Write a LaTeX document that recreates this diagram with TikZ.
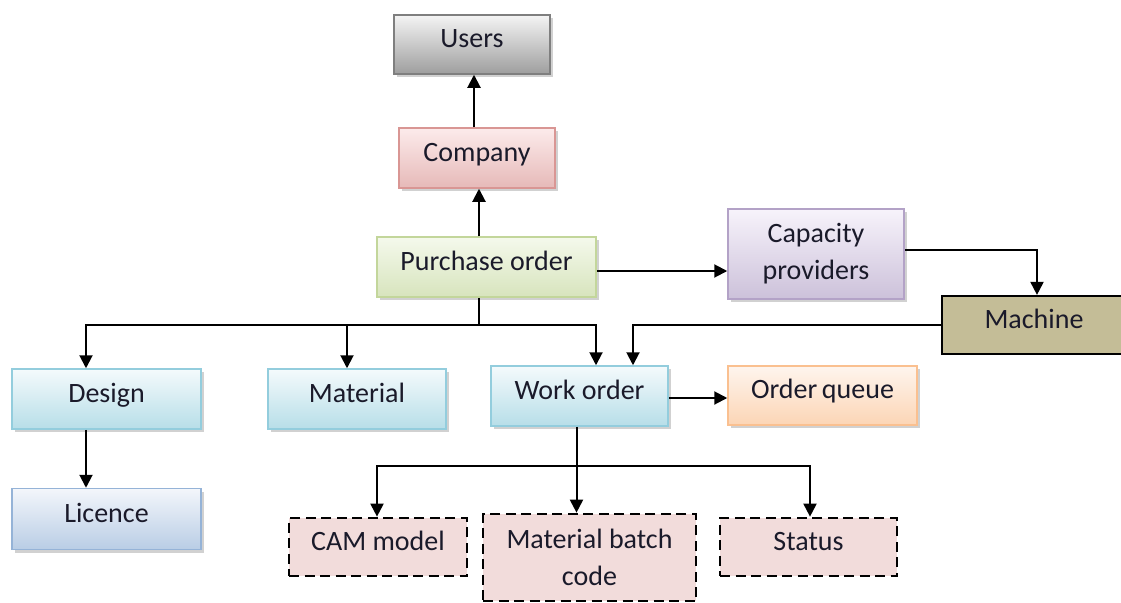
\documentclass[tikz,border=0pt]{standalone}
\usepackage{fontspec}
\setmainfont{Carlito}
\usetikzlibrary{arrows.meta,shadows}
\definecolor{usersT}{HTML}{F4F4F4}\definecolor{usersB}{HTML}{9E9E9E}\definecolor{usersD}{HTML}{7F7F7F}
\definecolor{compT}{HTML}{FCEBEB}\definecolor{compB}{HTML}{E6B9B8}\definecolor{compD}{HTML}{D99694}
\definecolor{poT}{HTML}{F5F9EC}\definecolor{poB}{HTML}{D7E4BD}\definecolor{poD}{HTML}{C3D69B}
\definecolor{capT}{HTML}{F7F3FB}\definecolor{capB}{HTML}{CCC1DA}\definecolor{capD}{HTML}{B3A2C7}
\definecolor{machF}{HTML}{C4BD97}
\definecolor{blT}{HTML}{F4FAFC}\definecolor{blB}{HTML}{B7DEE8}\definecolor{blD}{HTML}{93CDDD}
\definecolor{oqT}{HTML}{FEF5EE}\definecolor{oqB}{HTML}{FCD5B5}\definecolor{oqD}{HTML}{FAC090}
\definecolor{liT}{HTML}{F3F6FB}\definecolor{liB}{HTML}{B9CDE5}\definecolor{liD}{HTML}{95B3D7}
\definecolor{dashF}{HTML}{F2DCDB}
\definecolor{txt}{HTML}{1A1A2A}
\begin{document}
\begin{tikzpicture}[x=1pt,y=-1pt,
  base/.style={line width=1.5pt, inner sep=0pt, text=txt,
    font=\fontsize{28}{37}\selectfont},
  one/.style={text height=0.7em, text depth=0.02em},
  two/.style={align=center},
  shad/.style={drop shadow={shadow xshift=2.5pt, shadow yshift=-3pt, opacity=0.3, fill=black!60}},
  gbox/.style n args={3}{base, shad, draw=#3, top color=#1, bottom color=#2},
  dbox/.style={base, draw=black, fill=dashF, line width=2.7pt, dash pattern=on 10pt off 5.5pt},
  conn/.style={line width=2pt, draw=black},
  arr/.style={conn, -{Triangle[width=13pt,length=13pt]}}
]
\useasboundingbox (0,0) rectangle (1121,602);
\clip (0,0) rectangle (1121,602);

\node[gbox={usersT}{usersB}{usersD}, one, minimum width=156pt, minimum height=59pt] (users) at (472,44.5) {Users};
\node[gbox={compT}{compB}{compD}, one, minimum width=156pt, minimum height=60pt] (company) at (477,158) {Company};
\node[gbox={poT}{poB}{poD}, one, minimum width=219pt, minimum height=60pt] (po) at (486.5,267) {Purchase order};
\node[gbox={capT}{capB}{capD}, two, minimum width=176pt, minimum height=90pt] (cap) at (816,254) {Capacity\\providers};
\node[base, one, draw=black, line width=2.2pt, fill=machF, minimum width=184pt, minimum height=58pt] (machine) at (1034,325) {Machine};
\node[gbox={blT}{blB}{blD}, one, minimum width=189pt, minimum height=60pt] (design) at (106.5,399) {Design};
\node[gbox={blT}{blB}{blD}, one, minimum width=178pt, minimum height=60pt] (material) at (357,399) {Material};
\node[gbox={blT}{blB}{blD}, one, minimum width=177pt, minimum height=60pt] (wo) at (579.5,396) {Work order};
\node[gbox={oqT}{oqB}{oqD}, one, minimum width=189pt, minimum height=59pt] (oq) at (822.5,395.5) {Order\,queue};
\node[gbox={liT}{liB}{liD}, one, minimum width=189pt, minimum height=61pt] (licence) at (106.5,519) {Licence};
\node[dbox, one, minimum width=178pt, minimum height=58pt] (cam) at (378,547) {CAM model};
\node[dbox, two, minimum width=213pt, minimum height=87pt] (mb) at (589.5,557.5) {Material batch\\code};
\node[dbox, one, minimum width=177pt, minimum height=58pt] (status) at (808.5,547) {Status};

% upward chain
\coordinate (c1) at ([xshift=-3pt]company.north);
\draw[arr] (c1) -- (c1 |- users.south);
\coordinate (p1) at ([xshift=-7.5pt]po.north);
\draw[arr] (p1) -- (p1 |- company.south);
% purchase order -> capacity providers -> machine -> work order
\coordinate (p2) at ([yshift=-4pt]po.east);
\draw[arr] (p2) -- (p2 -| cap.west);
\coordinate (k1) at ([yshift=4pt]cap.east);
\coordinate (m1) at ([xshift=3pt]machine.north);
\draw[arr] (k1) -| (m1);
\coordinate (w2) at ([xshift=53.5pt]wo.north);
\draw[arr] (machine.west) -| (w2);
% purchase order branches
\coordinate (p3) at ([xshift=-7.5pt]po.south);
\coordinate (bus) at ([yshift=-27pt]p3);
\coordinate (d1) at ([xshift=-20.5pt]design.north);
\coordinate (mt1) at ([xshift=-10pt]material.north);
\coordinate (w1) at ([xshift=16.5pt]wo.north);
\draw[conn] (p3) -- (bus);
\draw[arr] (bus) -| (d1);
\draw[arr] (bus) -| (mt1);
\draw[arr] (bus) -| (w1);
% design -> licence
\coordinate (d2) at ([xshift=-20.5pt]design.south);
\draw[arr] (d2) -- (d2 |- licence.north);
% work order -> order queue
\coordinate (w3) at ([yshift=-2pt]wo.east);
\draw[arr] (w3) -- (w3 -| oq.west);
% work order branches
\coordinate (w4) at ([xshift=-3pt]wo.south);
\coordinate (bus2) at ([yshift=-39pt]w4);
\draw[arr] (w4) -- (w4 |- mb.north);
\draw[arr] (bus2) -| ([xshift=-1pt]cam.north);
\draw[arr] (bus2) -| ([xshift=1.5pt]status.north);
\end{tikzpicture}
\end{document}
